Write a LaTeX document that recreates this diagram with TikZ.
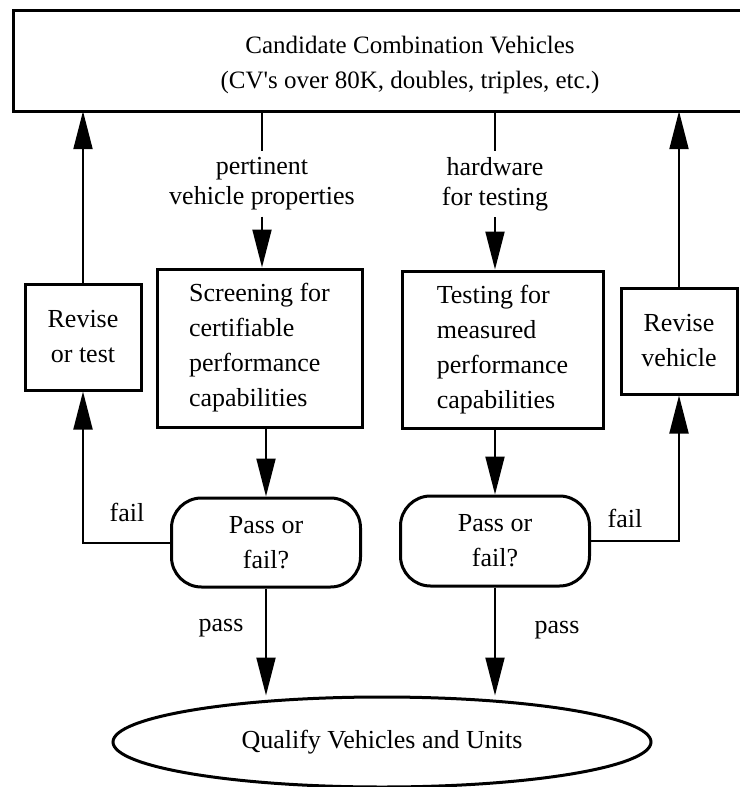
\documentclass[tikz,border=0pt]{standalone}
\usepackage{fontspec}
\setmainfont{Liberation Serif}[Ligatures=TeXOff]
\usetikzlibrary{arrows.meta, shapes.geometric}

\begin{document}
\begin{tikzpicture}[x=1pt, y=-1pt,
    box/.style={draw, line width=3pt, inner sep=0pt, font=\fontsize{26}{35}\selectfont},
    pill/.style={box, rounded corners=30pt, align=center},
    lab/.style={inner xsep=0pt, inner ysep=6pt, font=\fontsize{26}{30}\selectfont, align=center},
    arr/.style={line width=2pt, -{Triangle[length=38pt, width=19pt]}}]

    \useasboundingbox (0,0) rectangle (739,787);

    % the candidate vehicles across the top (box runs off the right edge)
    \node[inner sep=0pt, minimum height=93pt, align=center,
          font=\fontsize{25}{35}\selectfont] (cand) at (410,64.5)
      {Candidate Combination Vehicles\\(CV's over 80K, doubles, triples, etc.)};
    \draw[line width=3pt] (13,10) rectangle (742,111);

    % screening on the left, testing on the right
    \node[lab] (props) at (262,184) {pertinent\\vehicle properties};
    \node[lab] (hard) at (495,184) {hardware\\for testing};
    \node[box, minimum width=205pt, minimum height=158pt, align=left] (screen) at (259.5,348)
      {Screening for\\certifiable\\performance\\capabilities};
    \node[box, minimum width=201pt, minimum height=157pt, align=left] (test) at (502.5,349.5)
      {Testing for\\measured\\performance\\capabilities};

    % the two revise boxes on the outside
    \node[box, minimum width=116pt, minimum height=106pt, align=center] (revtest) at (83,337)
      {Revise\\or test};
    \node[box, minimum width=116pt, minimum height=106pt, align=center] (revveh) at (679,341)
      {Revise\\vehicle};

    % pass/fail decisions
    \node[pill, minimum width=189pt, minimum height=89pt] (pf1) at (266,542.5) {Pass or\\fail?};
    \node[pill, minimum width=189pt, minimum height=90pt] (pf2) at (495,541) {Pass or\\fail?};

    % final outcome
    \node[box, ellipse, minimum width=538pt, minimum height=90pt] (qual) at (382,742)
      {Qualify Vehicles and Units};

    % flow down from the candidates
    \draw[line width=2pt] (cand.south -| props) -- (props.north);
    \draw[arr] (props.south) -- (screen.north -| props);
    \draw[line width=2pt] (cand.south -| hard) -- (hard.north);
    \draw[arr] (hard.south) -- (test.north -| hard);
    \draw[arr] (screen.south -| pf1) -- (pf1.north);
    \draw[arr] (test.south -| pf2) -- (pf2.north);

    % fail loops back up through the revise boxes
    \draw[arr] (pf1.west) -| (revtest.south);
    \draw[arr] (revtest.north) -- (cand.south -| revtest);
    \draw[arr] (pf2.east) -| (revveh.south);
    \draw[arr] (revveh.north) -- (cand.south -| revveh);
    \node[font=\fontsize{26}{30}\selectfont] (fail1) at (127,512) {fail};
    \node[font=\fontsize{26}{30}\selectfont] (fail2) at (625,518) {fail};

    % pass goes on to qualification
    \draw[arr] (pf1.south) -- (qual.north -| pf1);
    \draw[arr] (pf2.south) -- (qual.north -| pf2);
    \node[font=\fontsize{26}{30}\selectfont] (pass1) at (221,628) {pass};
    \node[font=\fontsize{26}{30}\selectfont] (pass2) at (557,630) {pass};

\end{tikzpicture}
\end{document}
